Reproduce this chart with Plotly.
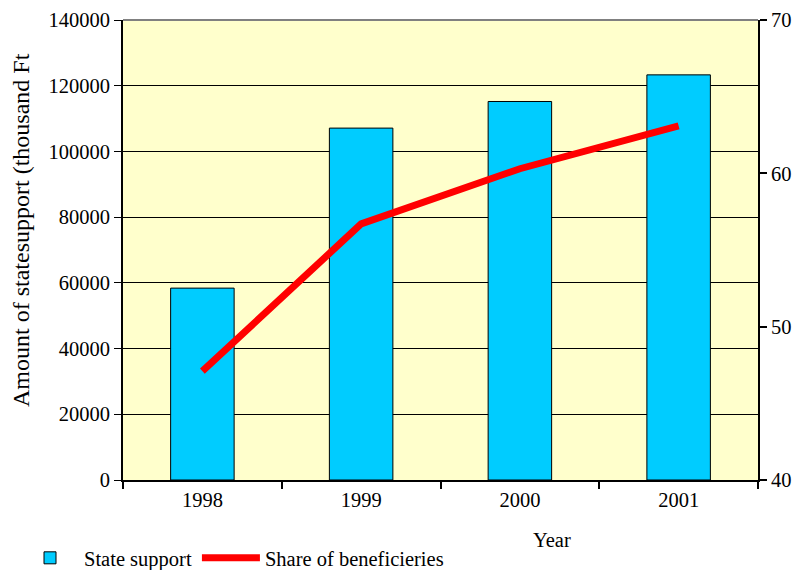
import plotly.graph_objects as go

years = ["1998", "1999", "2000", "2001"]
state_support = [58400, 107100, 115200, 123300]
share_beneficiaries = [47.1, 56.7, 60.3, 63.1]

left_ticks = [0, 20000, 40000, 60000, 80000, 100000, 120000, 140000]
right_ticks = [40, 50, 60, 70]

FONT = "Liberation Serif, Times New Roman, serif"
FS = 20.5

# page body has an 8px margin; compensate so the plot area lands where the reference has it
W, H = 796, 562
PL, PR, PT, PB = 123, 758, 20, 480  # target plot-area edges in page pixels


def px_x(p):
    return (p - PL) / (PR - PL)


def px_y(p):
    return (PB - p) / (PB - PT)


fig = go.Figure()
fig.add_trace(go.Bar(
    x=years, y=state_support, name="State support",
    marker=dict(color="#00CCFF", line=dict(color="#000000", width=1)),
    yaxis="y",
))
fig.add_trace(go.Scatter(
    x=years, y=share_beneficiaries, name="Share of beneficieries",
    mode="lines", line=dict(color="#FF0000", width=7),
    yaxis="y2",
))

fig.update_layout(
    width=W, height=H,
    margin=dict(l=PL - 8, r=W + 8 - PR, t=PT - 8, b=H + 8 - PB, autoexpand=False),
    paper_bgcolor="white",
    plot_bgcolor="#FFFFCC",
    font=dict(family=FONT, size=FS, color="#000000"),
    bargap=0.6,
    showlegend=True,
    legend=dict(
        orientation="h", xref="container", yref="container",
        x=8 / W, y=(570 - 558) / H, xanchor="left", yanchor="middle",
        font=dict(family=FONT, size=FS), bgcolor="rgba(0,0,0,0)",
        tracegroupgap=0, itemwidth=58,
    ),
    xaxis=dict(
        type="category", showgrid=False, automargin=False,
        showline=True, linecolor="#000000", linewidth=2,
        ticks="outside", tickson="boundaries", ticklen=7, tickcolor="#000000",
        tickwidth=2,
        tickfont=dict(family=FONT, size=FS),
    ),
    yaxis=dict(
        range=[0, 140000], tickvals=left_ticks, automargin=False,
        ticktext=[str(v) for v in left_ticks],
        showgrid=True, gridcolor="#000000", gridwidth=1,
        showline=True, linecolor="#000000", linewidth=2,
        ticks="outside", ticklen=7, tickcolor="#000000",
        zeroline=False,
        tickfont=dict(family=FONT, size=FS),
    ),
    yaxis2=dict(
        range=[40, 70], tickvals=right_ticks, automargin=False,
        overlaying="y", side="right",
        showgrid=False, zeroline=False,
        showline=True, linecolor="#000000", linewidth=2,
        ticks="outside", ticklen=7, tickcolor="#000000", tickwidth=2,
        tickfont=dict(family=FONT, size=FS),
    ),
    annotations=[
        dict(
            text="Year", xref="paper", yref="paper", x=px_x(552), y=px_y(540),
            xanchor="center", yanchor="middle", showarrow=False,
            font=dict(family=FONT, size=FS),
        ),
        dict(
            text="Amount of statesupport (thousand Ft", xref="paper", yref="paper",
            x=px_x(21), y=px_y(230), textangle=-90,
            xanchor="center", yanchor="middle", showarrow=False,
            font=dict(family=FONT, size=24),
        ),
    ],
    shapes=[dict(
        type="line", xref="paper", yref="paper", x0=0, x1=1, y0=1, y1=1,
        line=dict(color="#808080", width=2), layer="above",
    )],
)

fig.write_html("out.html")
